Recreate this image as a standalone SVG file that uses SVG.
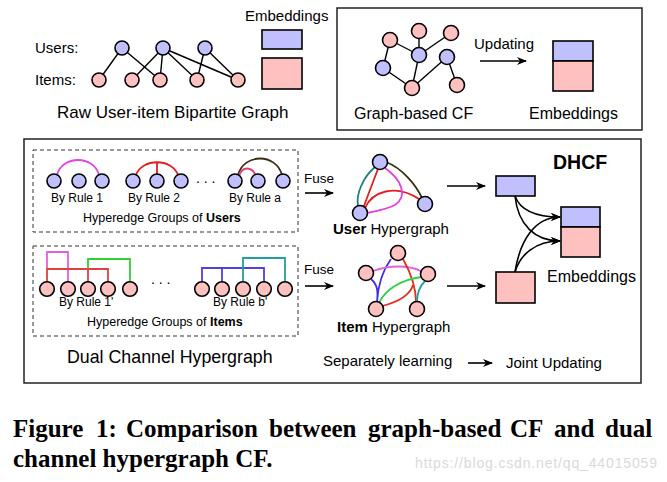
<svg xmlns="http://www.w3.org/2000/svg" width="667" height="482" viewBox="0 0 667 482">
<style>
text{font-family:"Liberation Sans",Arial,sans-serif;fill:#000}
.u{fill:#c0c0ff;stroke:#000;stroke-width:1.6}
.i{fill:#ffc0c0;stroke:#000;stroke-width:1.6}
.e{stroke:#000;stroke-width:1.4;fill:none}
.h{fill:none;stroke-width:1.8}
.box{fill:none;stroke:#222;stroke-width:1.5}
.dash{fill:none;stroke:#333;stroke-width:1;stroke-dasharray:4,3}
.arr{stroke:#000;stroke-width:1.6;fill:none;marker-end:url(#ah)}
.cap{font-family:"Liberation Serif","Times New Roman",serif;font-weight:bold;font-size:25px}
</style>
<defs>
<marker id="ah" viewBox="0 0 10 8" refX="9" refY="4" markerWidth="10" markerHeight="8" markerUnits="userSpaceOnUse" orient="auto">
<path d="M0,0 L10,4 L0,8 L3,4 z" fill="#000"/>
</marker>
</defs>
<rect width="667" height="482" fill="#fff"/>

<!-- Raw bipartite graph -->
<g id="raw-graph">
<g class="e">
<line x1="122" y1="48" x2="99" y2="80"/>
<line x1="122" y1="48" x2="160" y2="80"/>
<line x1="163" y1="48" x2="132" y2="80"/>
<line x1="163" y1="48" x2="160" y2="80"/>
<line x1="163" y1="48" x2="197" y2="80"/>
<line x1="163" y1="48" x2="238" y2="80"/>
<line x1="205" y1="48" x2="197" y2="80"/>
<line x1="205" y1="48" x2="238" y2="80"/>
</g>
<circle class="u" cx="122" cy="48" r="7"/>
<circle class="u" cx="163" cy="48" r="7"/>
<circle class="u" cx="205" cy="48" r="7"/>
<circle class="i" cx="99" cy="80" r="7"/>
<circle class="i" cx="132" cy="80" r="7"/>
<circle class="i" cx="160" cy="80" r="7"/>
<circle class="i" cx="197" cy="80" r="7"/>
<circle class="i" cx="238" cy="80" r="7"/>
<text x="35" y="53" font-size="15">Users:</text>
<text x="35" y="85" font-size="15">Items:</text>
<text x="57" y="118" font-size="17">Raw User-item Bipartite Graph</text>
</g>
<g id="raw-embeddings">
<text x="245" y="21" font-size="15">Embeddings</text>
<rect class="u" x="262" y="30" width="40" height="19"/>
<rect class="i" x="262" y="58" width="40" height="31"/>
</g>

<!-- Graph-based CF box -->
<g id="graph-cf">
<rect class="box" x="337" y="8" width="305" height="122"/>
<g class="e">
<line x1="390" y1="40" x2="419" y2="55"/>
<line x1="390" y1="40" x2="383" y2="68"/>
<line x1="419" y1="31" x2="419" y2="55"/>
<line x1="451" y1="33" x2="419" y2="55"/>
<line x1="419" y1="55" x2="412" y2="88"/>
<line x1="383" y1="68" x2="412" y2="88"/>
<line x1="447" y1="57" x2="412" y2="88"/>
<line x1="447" y1="57" x2="457" y2="85"/>
</g>
<circle class="i" cx="390" cy="40" r="7.5"/>
<circle class="i" cx="419" cy="31" r="7.5"/>
<circle class="i" cx="451" cy="33" r="7.5"/>
<circle class="u" cx="419" cy="55" r="7.5"/>
<circle class="u" cx="447" cy="57" r="7.5"/>
<circle class="u" cx="383" cy="68" r="7.5"/>
<circle class="i" cx="412" cy="88" r="7.5"/>
<circle class="i" cx="457" cy="85" r="7.5"/>
<text x="354" y="119" font-size="16">Graph-based CF</text>
<text x="474" y="49" font-size="15">Updating</text>
<rect class="u" x="553" y="41" width="40" height="20"/>
<rect class="i" x="553" y="61" width="40" height="30"/>
<text x="529" y="119" font-size="16">Embeddings</text>
</g>

<!-- DHCF box -->
<rect class="box" x="24" y="139" width="617" height="244"/>

<g id="user-groups">
<rect class="dash" x="33" y="150" width="265" height="82"/>
<path class="h" stroke="#e046e0" d="M57,175 C62,155 94,155 99,175"/>
<path class="h" stroke="#e02020" d="M136,175 C142,158 172,158 178,175 M157,162 V174"/>
<path class="h" stroke="#3a2e12" d="M238,175 C244,153 276,153 282,175"/>
<path class="h" stroke="#e0407a" d="M239,176 C242,166 252,166 256,176"/>
<circle class="u" cx="54" cy="181" r="7"/>
<circle class="u" cx="79" cy="181" r="7"/>
<circle class="u" cx="102" cy="181" r="7"/>
<circle class="u" cx="133" cy="181" r="7"/>
<circle class="u" cx="157" cy="181" r="7"/>
<circle class="u" cx="181" cy="181" r="7"/>
<circle class="u" cx="235" cy="181" r="7"/>
<circle class="u" cx="258" cy="181" r="7"/>
<circle class="u" cx="283" cy="181" r="7"/>
<text x="196" y="183" font-size="14">. . .</text>
<text x="51" y="202" font-size="12">By Rule 1</text>
<text x="128" y="202" font-size="12">By Rule 2</text>
<text x="229" y="202" font-size="12">By Rule a</text>
<text x="83" y="222" font-size="12.5">Hyperedge Groups of <tspan font-weight="bold">Users</tspan></text>
</g>

<g id="item-groups">
<rect class="dash" x="33" y="246" width="265" height="90"/>
<path class="h" stroke="#e060e0" d="M47,269 V252 H68 V282"/>
<path class="h" stroke="#30d030" d="M88,269 V259 H130 V282"/>
<path class="h" stroke="#e04040" d="M47,282 V269 H108 V282 M88,269 V282"/>
<path class="h" stroke="#5040e0" d="M202,282 V268 H264 V282 M222,268 V282"/>
<path class="h" stroke="#20a0a0" d="M243,282 V258 H285 V282"/>
<circle class="i" cx="47" cy="289" r="7.3"/>
<circle class="i" cx="68" cy="289" r="7.3"/>
<circle class="i" cx="88" cy="289" r="7.3"/>
<circle class="i" cx="108" cy="289" r="7.3"/>
<circle class="i" cx="130" cy="289" r="7.3"/>
<circle class="i" cx="202" cy="289" r="7.3"/>
<circle class="i" cx="222" cy="289" r="7.3"/>
<circle class="i" cx="243" cy="289" r="7.3"/>
<circle class="i" cx="264" cy="289" r="7.3"/>
<circle class="i" cx="285" cy="289" r="7.3"/>
<text x="151" y="284" font-size="14">. . .</text>
<text x="59" y="306" font-size="12">By Rule 1'</text>
<text x="213" y="306" font-size="12">By Rule b'</text>
<text x="87" y="326" font-size="12.5">Hyperedge Groups of <tspan font-weight="bold">Items</tspan></text>
</g>
<text x="67" y="363" font-size="17.8">Dual Channel Hypergraph</text>

<g id="user-hypergraph">
<path class="h" stroke="#208080" d="M375,167 C362,178 356,195 358,206"/>
<path class="h" stroke="#e02020" d="M378,169 C373,182 368,195 364,206"/>
<path class="h" stroke="#e02020" d="M365,208 C372,192 395,183 419,199"/>
<path class="h" stroke="#e040e0" d="M385,168 C402,180 408,196 395,205 C385,210 375,211 367,213"/>
<path class="h" stroke="#3a3010" d="M386,162 C402,168 416,185 422,198"/>
<circle class="u" cx="380" cy="162" r="7.5"/>
<circle class="u" cx="360" cy="213" r="7.5"/>
<circle class="u" cx="425" cy="204" r="7.5"/>
<text x="333" y="234" font-size="15"><tspan font-weight="bold">User</tspan> Hypergraph</text>
</g>

<g id="item-hypergraph">
<path class="h" stroke="#4030e0" d="M391,259 C383,270 378,285 377,302 M371,279 C378,285 378,292 377,302"/>
<path class="h" stroke="#e060e0" d="M373,271 C390,265 408,265 421,271"/>
<path class="h" stroke="#e03020" d="M403,259 C412,275 416,290 416,302 M382,306 C398,302 410,295 413,285"/>
<path class="h" stroke="#30d040" d="M421,277 C400,280 385,290 379,303"/>
<path class="h" stroke="#20a0a0" d="M425,281 C418,288 417,296 417,302"/>
<circle class="i" cx="398" cy="253" r="7.5"/>
<circle class="i" cx="366" cy="273" r="7.5"/>
<circle class="i" cx="428" cy="274" r="7.5"/>
<circle class="i" cx="376" cy="309" r="7.5"/>
<circle class="i" cx="417" cy="309" r="7.5"/>
<text x="337" y="332" font-size="15"><tspan font-weight="bold">Item</tspan> Hypergraph</text>
</g>

<g id="dhcf-embeddings">
<text x="553" y="169" font-size="19.5" font-weight="bold">DHCF</text>
<rect class="u" x="496" y="176" width="39" height="20"/>
<rect class="i" x="496" y="272" width="39" height="31"/>
<rect class="u" x="561" y="207" width="39" height="20"/>
<rect class="i" x="561" y="227" width="39" height="30"/>
<text x="547" y="282" font-size="16">Embeddings</text>
</g>

<g id="connectors">
<path class="arr" d="M480,61 H526"/>
<path class="arr" d="M305,193 H333"/>
<path class="arr" d="M305,286 H333"/>
<path class="arr" d="M447,186 H485"/>
<path class="arr" d="M447,286 H485"/>
<path class="arr" d="M515,196 C520,210 535,217 560,217"/>
<path class="arr" d="M515,196 C518,225 535,241 560,241"/>
<path class="arr" d="M515,272 C520,240 535,217 560,217"/>
<path class="arr" d="M515,272 C520,255 535,241 560,241"/>
<path class="arr" d="M468,363 H492"/>
</g>
<text x="304" y="183" font-size="13.5">Fuse</text>
<text x="304" y="274" font-size="13.5">Fuse</text>
<text x="323" y="366" font-size="15">Separately learning</text>
<text x="506" y="368" font-size="15">Joint Updating</text>

<g id="caption">
<text class="cap" y="437"><tspan x="13">Figure</tspan><tspan x="96">1:</tspan><tspan x="126">Comparison</tspan><tspan x="269">between</tspan><tspan x="368">graph-based</tspan><tspan x="510">CF</tspan><tspan x="554">and</tspan><tspan x="605">dual</tspan></text>
<text class="cap" x="13" y="467">channel hypergraph CF.</text>
<text x="415" y="468" font-size="14" style="fill:#d9d9d9" textLength="242">https://blog.csdn.net/qq_44015059</text>
</g>
</svg>
